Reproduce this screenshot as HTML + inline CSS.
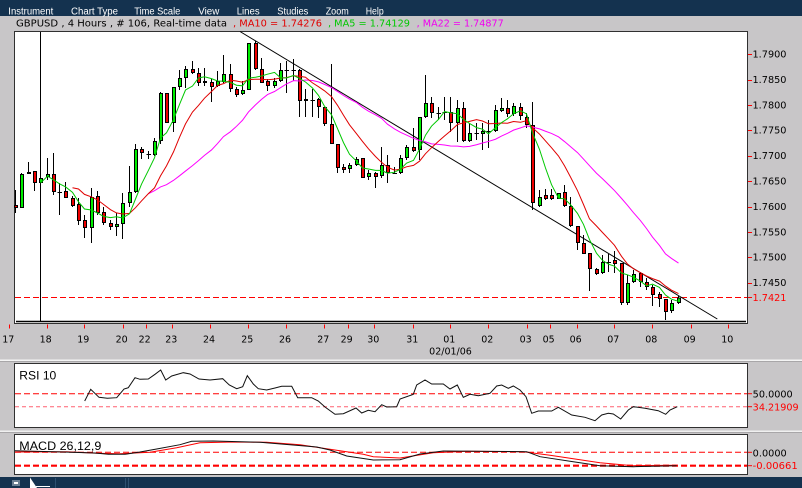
<!DOCTYPE html>
<html><head><meta charset="utf-8">
<style>
html,body{margin:0;padding:0;width:802px;height:488px;overflow:hidden;background:#c8c6c8;}
svg{display:block}
</style></head><body>
<svg id="s" width="802" height="488" xmlns="http://www.w3.org/2000/svg">
<rect width="802" height="488" fill="#c8c6c8"/>
<!-- menu bar -->
<rect x="0" y="0" width="802" height="16" fill="#14324f"/>
<g fill="#ffffff" font-family="Liberation Sans, Arial, sans-serif" font-size="10">
<text x="8.3" y="14.5" textLength="45" lengthAdjust="spacingAndGlyphs">Instrument</text>
<text x="71" y="14.5" textLength="47" lengthAdjust="spacingAndGlyphs">Chart Type</text>
<text x="134.3" y="14.5" textLength="46" lengthAdjust="spacingAndGlyphs">Time Scale</text>
<text x="198.3" y="14.5" textLength="21" lengthAdjust="spacingAndGlyphs">View</text>
<text x="236.7" y="14.5" textLength="23" lengthAdjust="spacingAndGlyphs">Lines</text>
<text x="277.3" y="14.5" textLength="31" lengthAdjust="spacingAndGlyphs">Studies</text>
<text x="325.7" y="14.5" textLength="23" lengthAdjust="spacingAndGlyphs">Zoom</text>
<text x="365.7" y="14.5" textLength="18" lengthAdjust="spacingAndGlyphs">Help</text>
</g>
<!-- title -->
<g font-family="DejaVu Sans, Verdana, sans-serif" font-size="9.5">
<text x="16" y="26.3" fill="#000" textLength="211" lengthAdjust="spacingAndGlyphs">GBPUSD , 4 Hours , # 106, Real-time data</text>
<text x="233" y="26.3" fill="#e00000" textLength="89" lengthAdjust="spacingAndGlyphs">, MA10 = 1.74276</text>
<text x="328" y="26.3" fill="#00c800" textLength="82" lengthAdjust="spacingAndGlyphs">, MA5 = 1.74129</text>
<text x="416.7" y="26.3" fill="#f000f0" textLength="87" lengthAdjust="spacingAndGlyphs">, MA22 = 1.74877</text>
</g>
<!-- main chart box -->
<rect x="14.5" y="31.5" width="733" height="292" fill="#ffffff" stroke="#303030" stroke-width="1"/>
<line x1="16" y1="321.5" x2="746" y2="321.5" stroke="#000" stroke-width="1.6"/>
<line x1="40.5" y1="32" x2="40.5" y2="322" stroke="#000" stroke-width="1"/>
<line x1="15" y1="297.5" x2="747" y2="297.5" stroke="#ff0000" stroke-width="1" stroke-dasharray="6,3"/>
<line x1="240" y1="31.5" x2="717.3" y2="319" stroke="#000" stroke-width="1"/>
<g id="candles"></g>
<g id="mas" fill="none"></g>
<!-- price axis -->
<g id="paxis" font-family="DejaVu Sans, Verdana, sans-serif" font-size="9.5"></g>
<!-- time axis -->
<g id="taxis" font-family="DejaVu Sans, Verdana, sans-serif" font-size="9.5" text-anchor="middle"></g>
<text x="450.5" y="354.5" font-family="DejaVu Sans, Verdana, sans-serif" font-size="9.5" text-anchor="middle" fill="#000">02/01/06</text>

<!-- separators -->
<rect x="0" y="359.5" width="802" height="1.5" fill="#f4f4f4"/>
<rect x="0" y="361" width="802" height="1" fill="#a8a6a8"/>
<rect x="0" y="430.5" width="802" height="1.5" fill="#f0f0f0"/>
<rect x="0" y="432" width="802" height="1" fill="#a8a6a8"/>

<!-- RSI panel -->
<rect x="14.5" y="363.5" width="733" height="64" fill="#ffffff" stroke="#303030" stroke-width="1"/>
<text x="19.3" y="379.3" font-family="Liberation Sans, Arial, sans-serif" font-size="11.5" fill="#000" textLength="37" lengthAdjust="spacingAndGlyphs">RSI 10</text>
<line x1="15" y1="393.7" x2="747" y2="393.7" stroke="#ff0000" stroke-width="1" stroke-dasharray="6,3"/>
<line x1="15" y1="406.7" x2="747" y2="406.7" stroke="#ff6070" stroke-width="1" stroke-dasharray="4,3"/>
<polyline fill="none" stroke="#101010" stroke-width="1" points="84.7,401 90.7,389.3 99,397.3 107.3,398.3 116.7,397.7 124,389 128.3,387.7 135,377.7 140,379.3 148.3,379 155,374.3 160.7,370 165.7,380 171.7,376 183.3,372.7 190,374 199,379 210,380 222.7,378.7 229.3,385 236.7,388.7 242.7,386.7 247.3,375.7 253.3,384 258.3,388.7 266.7,390 275,388 281.7,386.3 291.7,386.3 297.7,397.7 311.7,397.7 318.3,401 325,407 335,414.3 343.3,413.7 356,408 361.7,413 368.3,410.3 375,411.7 381.7,404.7 386.7,407 396.7,406.7 400,399 413.3,394.3 416.7,385 425,380 431.7,384 443.3,384 450,389 457.3,385 463.3,397.3 470,394.3 478.3,395.7 490,393.3 496.7,386 501.7,385 508.3,388.3 513.3,386 520,390 526,396.7 531.7,413.3 538.3,411 551.7,411 558.3,407.3 571.7,415 585,417.3 595,420.7 601.7,415 608.3,413.3 613.3,414 620.7,419 628.3,410 633.3,406.7 645,408.3 658.3,410.7 665.7,414.3 670,410 677.3,406.7"/>
<line x1="748" y1="393.7" x2="752" y2="393.7" stroke="#ff0000"/>
<line x1="748" y1="406.7" x2="752" y2="406.7" stroke="#ff0000"/>
<g font-family="DejaVu Sans, Verdana, sans-serif" font-size="9.5">
<text x="752.7" y="397.4" fill="#000" textLength="40" lengthAdjust="spacingAndGlyphs">50.0000</text>
<text x="752.7" y="410.3" fill="#ff0000" textLength="46" lengthAdjust="spacingAndGlyphs">34.21909</text>
</g>

<!-- MACD panel -->
<rect x="14.5" y="434.5" width="733" height="40" fill="#ffffff" stroke="#303030" stroke-width="1"/>
<text x="19.3" y="450" font-family="Liberation Sans, Arial, sans-serif" font-size="11.5" fill="#000" textLength="82" lengthAdjust="spacingAndGlyphs">MACD 26,12,9</text>
<line x1="15" y1="452.3" x2="747" y2="452.3" stroke="#ff0000" stroke-width="1" stroke-dasharray="6,3"/>
<line x1="15" y1="465.7" x2="747" y2="465.7" stroke="#ff0000" stroke-width="2.2" stroke-dasharray="6,3"/>
<polyline fill="none" stroke="#ff0000" stroke-width="1" points="15,452 66.7,451.7 96.7,453.3 120,453.7 150,452.3 176.7,447.7 200,442.7 233.3,442 266.7,442.3 300,444.7 333.3,449.7 363.3,454.3 373.3,456.7 400,458 433.3,452.7 466.7,451.3 523.3,451.7 550,455.3 600,462.7 633.3,465.7 676.7,465.3"/>
<polyline fill="none" stroke="#101010" stroke-width="1" points="15,450.7 63.3,452 95,453 108.3,454.3 125,454.3 140,452 156.7,449 180,444.7 191.7,441.3 213.3,441 260,442.3 290,444.7 316.7,447 330,450 346.7,456 373.3,460 400,459.7 420,454 443.3,451 526.7,451.7 540,456.7 573.3,461.7 600,465.7 633.3,466.7 676.7,465.7"/>
<line x1="748" y1="452.3" x2="752" y2="452.3" stroke="#ff0000"/>
<line x1="748" y1="465.7" x2="752" y2="465.7" stroke="#ff0000"/>
<g font-family="DejaVu Sans, Verdana, sans-serif" font-size="9.5">
<text x="752.7" y="456.5" fill="#000" textLength="34" lengthAdjust="spacingAndGlyphs">0.0000</text>
<text x="752.7" y="469" fill="#ff0000" textLength="45" lengthAdjust="spacingAndGlyphs">-0.00661</text>
</g>

<!-- status bar -->
<rect x="0" y="477" width="802" height="11" fill="#14324f"/>
<rect x="12" y="480" width="8" height="6" fill="#6a7f94"/>
<rect x="14" y="482" width="4" height="2" fill="#ffffff"/>
<polygon points="30,477.5 30,488 37,488" fill="#ffffff"/>
<line x1="36" y1="486.5" x2="50" y2="486.5" stroke="#ffffff" stroke-width="1"/>
<line x1="55.5" y1="478" x2="55.5" y2="488" stroke="#2e5070"/>
<line x1="125.5" y1="478" x2="125.5" y2="488" stroke="#2e5070"/>
<line x1="128.5" y1="478" x2="128.5" y2="488" stroke="#2e5070"/>
</svg>
<script>
(function(){
var NS='http://www.w3.org/2000/svg';
function el(n,a){var e=document.createElementNS(NS,n);for(var k in a)e.setAttribute(k,a[k]);return e;}
var C=[
['r',205,208,190,213],['g',174,208,173,208],['g',172,174,162,174],['r',171,183,171,191],['g',178,183,175,184],
['g',174,177,158,180],['r',174,192,153,195],['x',192,192,183,215],['r',191,198,182,198],['r',198,206,196,207],
['r',204,221,198,225],['r',220,228,215,238],['g',197,228,188,243],['r',196,213,191,215],['r',212,223,207,225],
['r',223,227,220,230],['g',224,227,213,236],['g',203,224,193,239],['g',192,203,166,207],['g',149,192,144,193],
['r',149,153,147,159],['x',154,154,151,159],['g',141,155,138,156],['g',93,141,92,144],['r',93,123,93,123],
['g',87,123,87,132],['g',78,87,70,90],['g',69,78,66,88],['r',69,73,61,74],['r',73,83,68,86],
['g',81,83,68,86],['r',82,87,79,102],['g',81,86,71,87],['g',74,82,55,83],['r',74,89,64,92],
['r',89,95,87,97],['g',90,94,81,95],['g',43,90,43,90],['r',43,69,41,70],['r',69,83,58,83],
['r',81,86,79,91],['g',81,86,78,88],['g',70,81,63,82],['x',70,70,61,93],['x',70,70,59,81],
['r',70,101,69,117],['g',99,101,89,117],['x',100,100,89,117],['r',99,107,98,118],['r',107,124,107,126],
['r',124,144,64,144],['r',144,168,144,173],['r',167,170,164,173],['g',165,169,163,173],['g',159,165,157,166],
['r',158,178,158,178],['g',173,177,170,180],['r',173,177,172,188],['g',165,176,147,178],['r',165,173,155,183],
['x',173,173,167,174],['g',158,173,155,174],['g',147,158,145,160],['r',147,151,128,152],['g',117,150,117,160],
['g',103,117,75,118],['r',103,113,97,118],['x',113,113,107,120],['x',112,112,97,120],['r',112,123,97,132],
['g',108,123,100,142],['r',108,141,102,142],['g',133,141,123,142],['x',133,133,123,140],['g',131,134,123,150],
['x',131,131,120,148],['g',110,131,105,132],['g',108,111,98,112],['r',108,114,100,117],['g',106,114,103,116],
['r',107,116,103,120],['r',117,125,113,128],['r',125,203,102,210],['g',197,206,190,207],['r',195,199,189,200],
['r',195,199,189,200],['g',193,199,193,199],['r',192,206,185,207],['r',206,226,197,227],['r',226,243,226,250],
['r',243,254,235,254],['r',253,269,253,291],['r',269,274,268,275],['g',262,273,255,274],['x',262,262,254,272],
['r',260,264,251,273],['r',263,303,263,305],['g',283,303,275,305],['g',274,282,270,283],['r',273,282,272,287],
['r',282,287,278,290],['r',287,295,285,306],['r',294,299,292,307],['r',299,312,299,320],['g',303,311,300,313],
['g',297.6,303,296,304]
];
var g=document.getElementById('candles');
var xs=[],cl=[];
for(var i=0;i<C.length;i++){
  var c=C[i],x=Math.round(15+i*6.31);xs.push(x);
  var t=c[0],bt=c[1],bb=c[2],wt=c[3],wb=c[4];
  cl.push(t==='r'?bb:bt);
  g.appendChild(el('line',{x1:x+0.5,y1:wt,x2:x+0.5,y2:wb,stroke:'#000','stroke-width':1}));
  if(t==='x'){
    g.appendChild(el('line',{x1:x-1.5,y1:Math.round(bt)+0.5,x2:x+3,y2:Math.round(bt)+0.5,stroke:'#000','stroke-width':1}));
  } else {
    var h=Math.max(bb-bt-1,1);
    g.appendChild(el('rect',{x:x-0.5,y:bt+0.5,width:3,height:h,fill:(t==='g'?'#00ee00':'#ee0000'),stroke:'#000','stroke-width':1}));
  }
}
var m=document.getElementById('mas');
function ma(p,col){
  var pts=[];
  for(var i=p-1;i<cl.length;i++){
    var s=0;for(var j=i-p+1;j<=i;j++)s+=cl[j];
    pts.push((xs[i]+0.5)+','+(s/p).toFixed(2));
  }
  m.appendChild(el('polyline',{points:pts.join(' '),stroke:col,'stroke-width':1,fill:'none'}));
}
ma(22,'#ff00ff');ma(10,'#e00000');ma(5,'#00c800');
// price axis
var pa=document.getElementById('paxis');
var labs=['1.7900','1.7850','1.7800','1.7750','1.7700','1.7650','1.7600','1.7550','1.7500','1.7450'];
for(var k=0;k<labs.length;k++){
  var y=54.3+k*25.38;
  pa.appendChild(el('line',{x1:748,y1:Math.round(y)+0.5,x2:752,y2:Math.round(y)+0.5,stroke:'#ff0000'}));
  var tx=el('text',{x:752.5,y:(y+3.3).toFixed(1),fill:'#000',textLength:34,lengthAdjust:'spacingAndGlyphs'});
  tx.textContent=labs[k];pa.appendChild(tx);
}
pa.appendChild(el('line',{x1:748,y1:297.5,x2:752,y2:297.5,stroke:'#ff0000'}));
var t2=el('text',{x:752.5,y:300.9,fill:'#ff0000',textLength:34,lengthAdjust:'spacingAndGlyphs'});t2.textContent='1.7421';pa.appendChild(t2);
// time axis
var ta=document.getElementById('taxis');
var T=[['17',9.3],['18',46.7],['19',84.3],['20',122.7],['22',145.7],['23',172.3],['24',210],['25',248.3],['26',286],['27',324.3],['29',347.7],['30',374.3],['31',413.3],['01',450.3],['02',488.3],['03',526.7],['05',549.7],['06',576.7],['07',614.3],['08',652.3],['09',690.7],['10',728.3]];
for(var k=0;k<T.length;k++){
  var xx=Math.round(T[k][1])+0.5;
  ta.appendChild(el('line',{x1:xx,y1:324.5,x2:xx,y2:328.5,stroke:'#ff0000'}));
  var tt=el('text',{x:T[k][1]-1,y:342.5,fill:'#000'});tt.textContent=T[k][0];ta.appendChild(tt);
}
})();
</script>
</body></html>
